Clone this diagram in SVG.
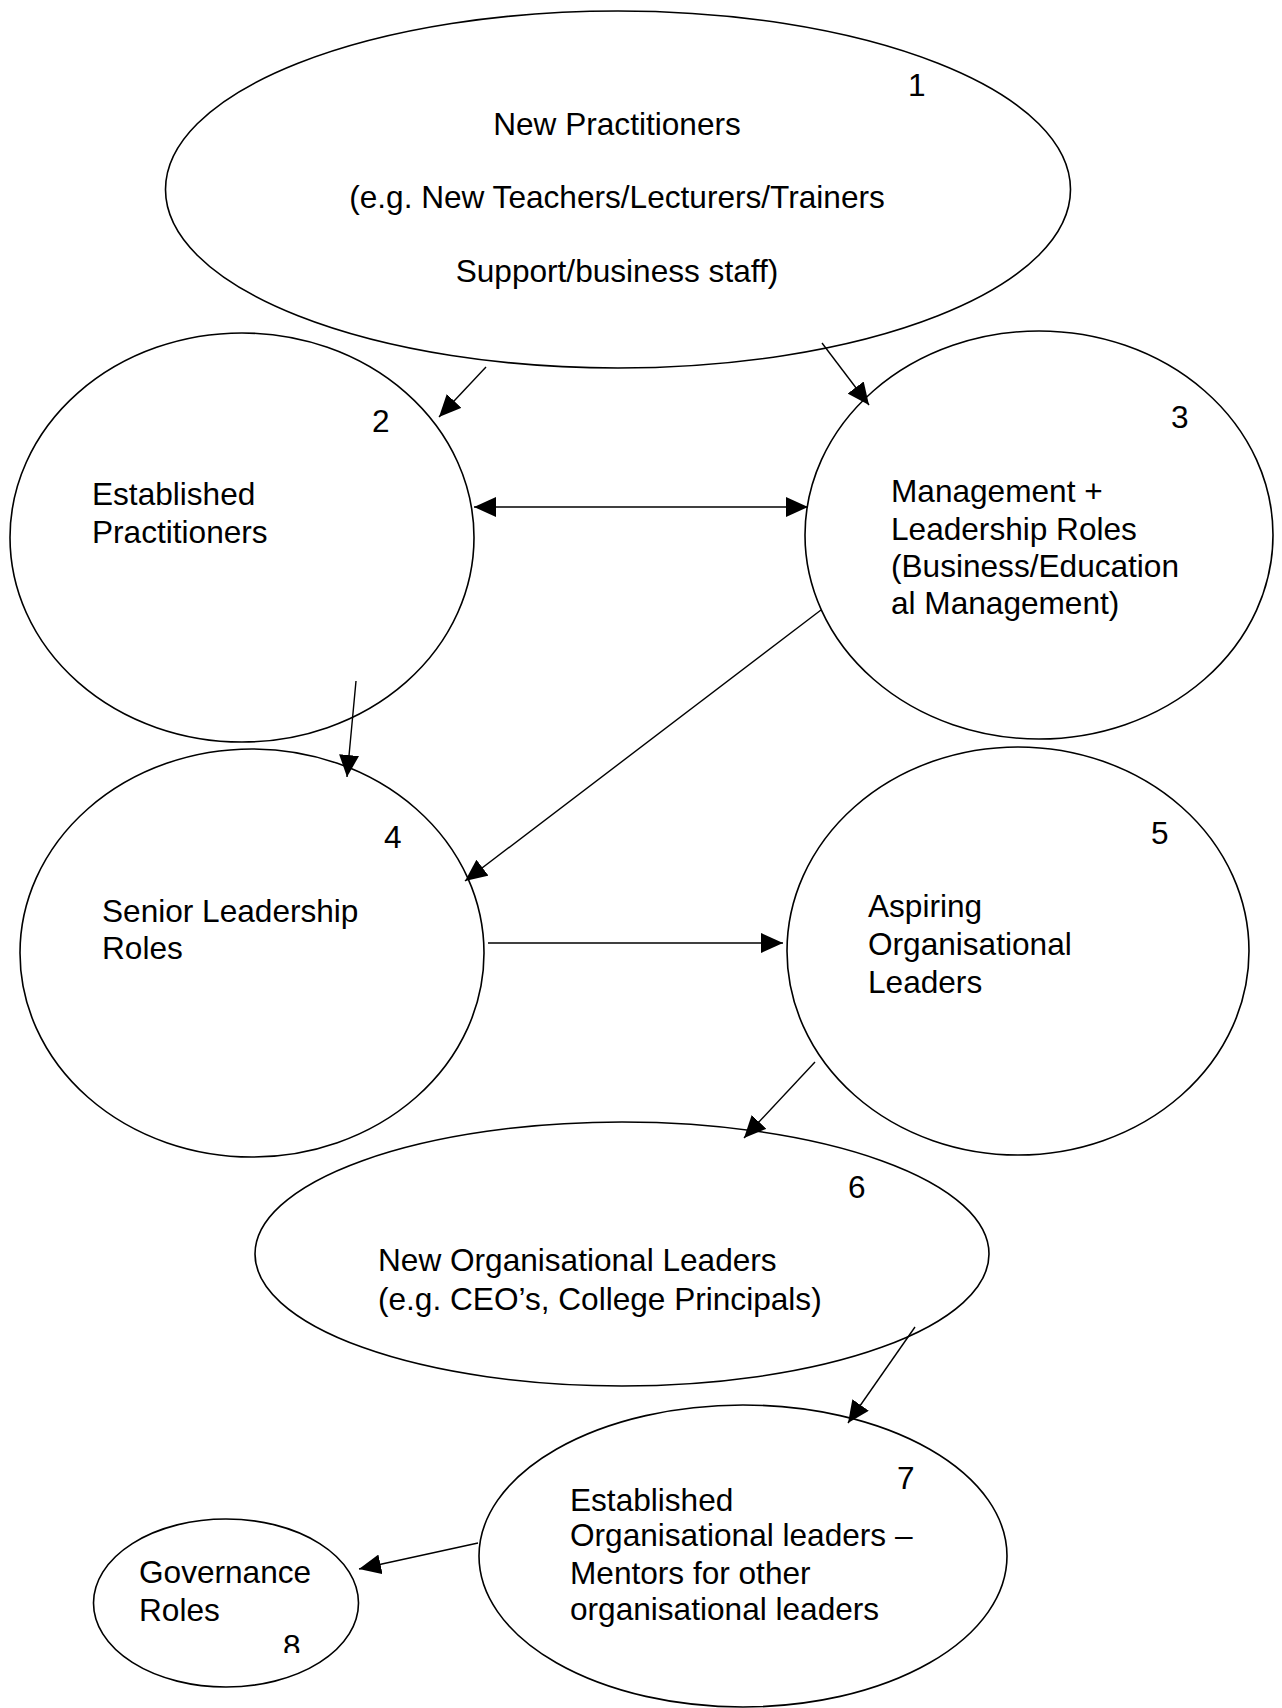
<svg xmlns="http://www.w3.org/2000/svg" width="1282" height="1708" viewBox="0 0 1282 1708">
<style>
.n{fill:#fff;stroke:#000;stroke-width:1.6}
text{font-family:"Liberation Sans",Arial,sans-serif;font-size:31.6px;fill:#000}
.c{text-anchor:middle}
.e{stroke:#000;stroke-width:1.4;fill:none;marker-end:url(#ah)}
</style>
<defs>
<marker id="ah" markerUnits="userSpaceOnUse" markerWidth="22" markerHeight="20" refX="22" refY="10" orient="auto-start-reverse" viewBox="0 0 22 20">
<path d="M0,0 L22,10 L0,20 Z" fill="#000"/>
</marker>
<clipPath id="clip8"><rect x="270" y="1620" width="50" height="33"/></clipPath>
</defs>
<rect width="1282" height="1708" fill="#fff"/>
<g id="node1">
<ellipse class="n" cx="618" cy="189.5" rx="452.5" ry="178.5"/>
<text x="908" y="96">1</text>
<text class="c" x="617" y="135">New Practitioners</text>
<text class="c" x="617" y="208">(e.g. New Teachers/Lecturers/Trainers</text>
<text class="c" x="617" y="282">Support/business staff)</text>
</g>
<g id="node2">
<ellipse class="n" cx="242" cy="537.5" rx="232" ry="204.5"/>
<text x="372" y="432">2</text>
<text x="92" y="505">Established</text>
<text x="92" y="543">Practitioners</text>
</g>
<g id="node3">
<ellipse class="n" cx="1039" cy="535" rx="234" ry="204"/>
<text x="1171" y="428">3</text>
<text x="891" y="502">Management +</text>
<text x="891" y="539.5">Leadership Roles</text>
<text x="891" y="577">(Business/Education</text>
<text x="891" y="614">al Management)</text>
</g>
<g id="node4">
<ellipse class="n" cx="252" cy="953" rx="232" ry="204"/>
<text x="384" y="848">4</text>
<text x="102" y="922">Senior Leadership</text>
<text x="102" y="959">Roles</text>
</g>
<g id="node5">
<ellipse class="n" cx="1018" cy="951" rx="231" ry="204"/>
<text x="1151" y="844">5</text>
<text x="868" y="917">Aspiring</text>
<text x="868" y="955">Organisational</text>
<text x="868" y="993">Leaders</text>
</g>
<g id="node6">
<ellipse class="n" cx="622" cy="1254" rx="367" ry="132"/>
<text x="848" y="1198">6</text>
<text x="378" y="1271">New Organisational Leaders</text>
<text x="378" y="1310">(e.g. CEO’s, College Principals)</text>
</g>
<g id="node7">
<ellipse class="n" cx="743" cy="1556" rx="264" ry="151"/>
<text x="897" y="1489">7</text>
<text x="570" y="1511">Established</text>
<text x="570" y="1546">Organisational leaders –</text>
<text x="570" y="1584">Mentors for other</text>
<text x="570" y="1620">organisational leaders</text>
</g>
<g id="node8">
<ellipse class="n" cx="226" cy="1603" rx="132.5" ry="84"/>
<text x="139" y="1583">Governance</text>
<text x="139" y="1621">Roles</text>
<text x="283" y="1657" clip-path="url(#clip8)">8</text>
</g>
<g id="connectors">
<line class="e" x1="486" y1="367" x2="439" y2="417"/>
<line class="e" x1="822" y1="343" x2="869" y2="405"/>
<line class="e" x1="474" y1="507" x2="808" y2="507" style="marker-start:url(#ah)"/>
<line class="e" x1="356" y1="681" x2="347" y2="777"/>
<line class="e" x1="821" y1="610" x2="465" y2="881"/>
<line class="e" x1="488" y1="943" x2="783" y2="943"/>
<line class="e" x1="815" y1="1062" x2="744" y2="1138"/>
<line class="e" x1="915" y1="1327" x2="848" y2="1423"/>
<line class="e" x1="478" y1="1543" x2="359" y2="1569"/>
</g>
</svg>
